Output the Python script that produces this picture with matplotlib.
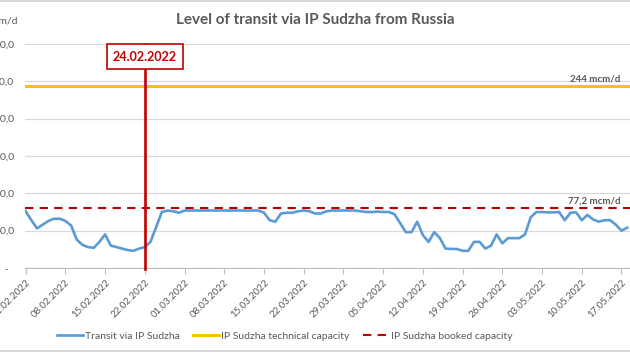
import numpy as np
import pandas as pd
import matplotlib
matplotlib.use('Agg')
import matplotlib.pyplot as plt
from matplotlib.lines import Line2D

plt.rcParams['font.family'] = ['Lato', 'DejaVu Sans']

# daily transit via IP Sudzha, mcm/d, from 01.02.2022
transit = [76, 64, 53, 58, 63, 66, 66, 63, 57, 38,
           31, 28, 27, 35, 45, 30, 28, 26, 24, 23,
           26, 28, 35, 55, 75, 77, 76, 74, 77, 77,
           77, 77, 77, 77, 77, 77, 77, 77, 77, 77,
           77, 77, 74, 64, 62, 73, 74, 74, 76, 77,
           76, 73, 73, 76, 77, 77, 77, 77, 77, 76,
           75, 75, 75.5, 75, 75, 72, 60, 48, 48, 62,
           44, 35, 48, 40, 26, 25.5, 25.5, 23, 23, 35,
           35, 26, 30, 45, 33, 40, 40, 40, 45, 68,
           75, 75, 74.5, 74.5, 75, 64, 74, 74.5, 64, 71,
           65, 62, 64, 64, 58, 50, 54]
dates = pd.date_range('2022-02-01', periods=len(transit), freq='D')

technical_capacity = 244
booked_capacity = 80.5  # drawn level, labelled 77,2
booked_label = '77,2 mcm/d'
technical_label = '244 mcm/d'
event_pos = pd.Timestamp('2022-02-22')
event_label = '24.02.2022'

tick_dates = pd.date_range('2022-02-01', '2022-05-17', freq='7D')
yticks = [0, 50, 100, 150, 200, 250, 300]

gray = '#595959'

fig = plt.figure(figsize=(6.3, 3.54), dpi=100)
ax = fig.add_axes([25.2 / 630, 1 - 268 / 354, 1 - 25.2 / 630, 224 / 354])

ax.plot(dates, transit, color='#5B9BD5', lw=1.9, solid_joinstyle='round',
        label='Transit via IP Sudzha', zorder=4)
ax.axhline(technical_capacity, color='#FFC000', lw=2.2,
           label='IP Sudzha technical capacity', zorder=3)
ax.axhline(booked_capacity, color='#C00000', lw=1.5, ls=(0, (4, 3)),
           label='IP Sudzha booked capacity', zorder=3)

ax.set_xlim(dates[0] - pd.Timedelta(hours=2), dates[0] + pd.Timedelta(days=106.5))
ax.set_ylim(0, 300)

#vertical marker line
ax.plot([event_pos, event_pos], [-2, 300], color='#C00000', lw=1.9,
        clip_on=False, zorder=5)
ax.text(event_pos, 283, event_label, ha='center', va='center', fontsize=9,
        fontweight='bold', color='#C00000', zorder=6,
        bbox=dict(boxstyle='square,pad=0.5', fc='white', ec='#C00000', lw=1.2))

ax.text(1.0 - 10 / 605, technical_capacity + 3, technical_label, transform=ax.get_yaxis_transform(),
        ha='right', va='bottom', fontsize=7, fontweight='bold', color=gray)
ax.text(1.0 - 9 / 605, booked_capacity + 3, booked_label, transform=ax.get_yaxis_transform(),
        ha='right', va='bottom', fontsize=7, fontweight='bold', color=gray)

# axes styling
ax.set_yticks(yticks)
ax.set_yticklabels(['-  '] + ['{:.1f}'.format(v).replace('.', ',') for v in yticks[1:]],
                   fontsize=7.5, color=gray)
ax.tick_params(axis='y', length=0, pad=8)
ax.set_xticks(tick_dates)
ax.set_xticklabels(tick_dates.strftime('%d.%m.%Y'), rotation=45, ha='right',
                   rotation_mode='anchor', fontsize=7, color=gray)
ax.tick_params(axis='x', length=4, color='#BFBFBF', pad=3)
ax.grid(axis='y', color='#D9D9D9', lw=0.9)
ax.set_axisbelow(True)
for s in ['top', 'right', 'left']:
    ax.spines[s].set_visible(False)
ax.spines['bottom'].set_color('#BFBFBF')

fig.text(18 / 630, 1 - 21 / 354, 'mcm/d', ha='right', va='center', fontsize=7.5, color=gray)
fig.text(0.5, 1 - 20 / 354, 'Level of transit via IP Sudzha from Russia', ha='center',
         va='center', fontsize=11, fontweight='bold', color=gray)

fig.legend(loc='center', bbox_to_anchor=(0.452, 1 - 336 / 354), ncol=3, frameon=False,
           fontsize=7.5, handlelength=2.5, handletextpad=0.15, columnspacing=1.3,
           labelcolor=gray)

# screenshot border lines
fig.add_artist(Line2D([0, 1], [1 - 1 / 354, 1 - 1 / 354], color='#D9D9D9', lw=1.5))
fig.add_artist(Line2D([0, 1], [1 - 351 / 354, 1 - 351 / 354], color='#D9D9D9', lw=1.5))

fig.savefig('out.png', dpi=100)
